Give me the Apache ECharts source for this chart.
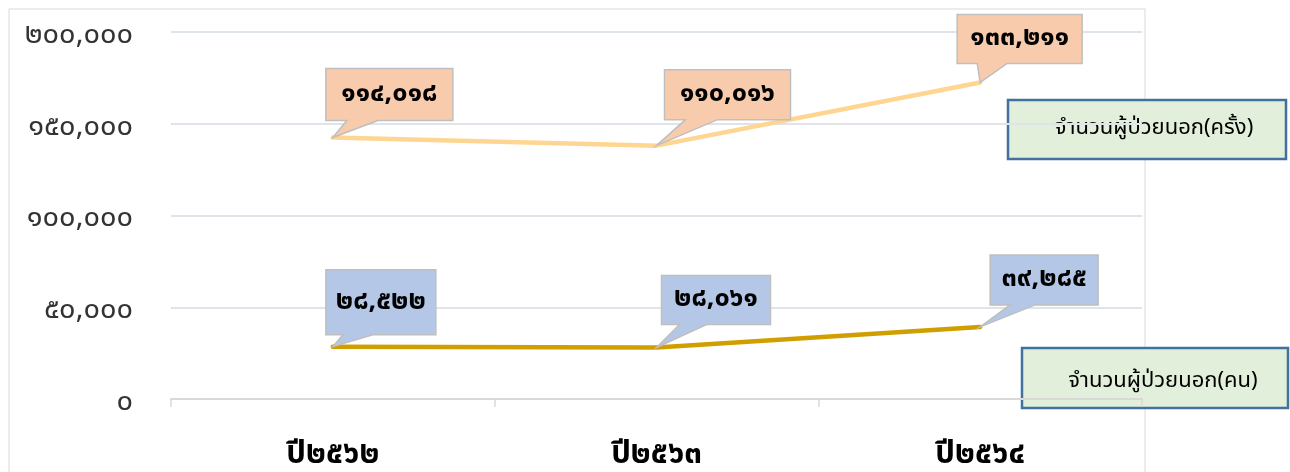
<!DOCTYPE html>
<html>
<head>
<meta charset="utf-8">
<script src="https://cdn.jsdelivr.net/npm/echarts@6/dist/echarts.min.js"></script>
<style>
  html, body { margin: 0; padding: 0; background: #ffffff; }
  #chart { width: 1290px; height: 472px; }
</style>
</head>
<body>
<div id="chart"></div>
<script>
// Fiscal years (Buddhist era)
const years = ['ปี๒๕๖๒', 'ปี๒๕๖๓', 'ปี๒๕๖๔'];
// Outpatients, number of persons
const patients = [28522, 28061, 39285];
// Outpatient visits (times), stacked on top of persons
const visits = [114018, 110016, 133211];
// Value-axis ticks
const yTicks = [0, 50000, 100000, 150000, 200000];

const seriesNames = ['จำนวนผู้ป่วยนอก(คน)', 'จำนวนผู้ป่วยนอก(ครั้ง)'];

// Callout bubble placement relative to its point: box offset, size, tail base
const visitCallouts = [
  { dx: -7, dy: -69, w: 127, h: 52, t0: 14, t1: 45 },
  { dx: 8, dy: -76, w: 126, h: 50, t0: 29, t1: 61 },
  { dx: -23, dy: -68, w: 125, h: 49, t0: -3, t1: 27 }
];
const patientCallouts = [
  { dx: -7, dy: -77, w: 110, h: 65, t0: 10, t1: 40 },
  { dx: 5, dy: -72, w: 109, h: 49, t0: 23, t1: 50 },
  { dx: 10, dy: -72, w: 108, h: 50, t0: 30, t1: 55 }
];

const THAI_DIGITS = '๐๑๒๓๔๕๖๗๘๙';
function toThai(n) {
  return Number(n).toLocaleString('en-US').replace(/[0-9]/g, d => THAI_DIGITS[+d]);
}

const FONT = "'Noto Sans Thai', 'Noto Sans', 'DejaVu Sans', sans-serif";

function calloutSeries(name, raw, base, layout, fill) {
  const data = raw.map((v, i) => [i, v + base[i], v]);
  return {
    type: 'custom',
    name: name + '-callout',
    data: data,
    z: 10,
    silent: true,
    renderItem: function (params, api) {
      const i = params.dataIndex;
      const p = api.coord([api.value(0), api.value(1)]);
      const L = layout[i];
      const x0 = p[0] + L.dx, y0 = p[1] + L.dy;
      const x1 = x0 + L.w, y1 = y0 + L.h;
      return {
        type: 'group',
        children: [
          {
            type: 'polygon',
            shape: {
              points: [
                [x0, y0], [x1, y0], [x1, y1],
                [p[0] + L.t1, y1], [p[0], p[1]], [p[0] + L.t0, y1],
                [x0, y1]
              ]
            },
            style: { fill: fill, stroke: '#bfbfbf', lineWidth: 1.5 }
          },
          {
            type: 'text',
            style: {
              x: (x0 + x1) / 2,
              y: (y0 + y1) / 2 + 1,
              text: toThai(api.value(2)),
              align: 'center',
              verticalAlign: 'middle',
              fill: '#000000',
              font: 'bold 27px ' + FONT
            }
          }
        ]
      };
    }
  };
}

const chart = echarts.init(document.getElementById('chart'), null, { renderer: 'canvas' });

const option = {
  backgroundColor: '#ffffff',
  animation: false,
  grid: { left: 171, right: 148, top: 32, bottom: 72, containLabel: false },
  xAxis: {
    type: 'category',
    data: years,
    boundaryGap: true,
    axisLine: { lineStyle: { color: '#d9d9d9', width: 2 } },
    axisTick: { show: true, length: 8, lineStyle: { color: '#d9d9d9', width: 1.5 } },
    axisLabel: {
      margin: 42,
      color: '#000000',
      fontFamily: FONT,
      fontWeight: 'bold',
      fontSize: 31
    }
  },
  yAxis: {
    type: 'value',
    min: yTicks[0],
    max: yTicks[yTicks.length - 1],
    interval: yTicks[1] - yTicks[0],
    axisLine: { show: false },
    axisTick: { show: false },
    splitLine: { lineStyle: { color: '#dfe3ea', width: 2 } },
    axisLabel: {
      margin: 38,
      formatter: v => '{v|' + toThai(v) + '}',
      rich: {
        v: {
          color: '#333333',
          fontFamily: FONT,
          fontSize: 29,
          padding: [10, 0, 0, 0]
        }
      }
    }
  },
  series: [
    {
      name: seriesNames[0],
      type: 'line',
      stack: 'opd',
      data: patients,
      showSymbol: false,
      lineStyle: { color: '#d19e00', width: 4.5, cap: 'round' },
      itemStyle: { color: '#d19e00' },
      z: 3
    },
    {
      name: seriesNames[1],
      type: 'line',
      stack: 'opd',
      data: visits,
      showSymbol: false,
      lineStyle: { color: '#ffd592', width: 4.5, cap: 'round' },
      itemStyle: { color: '#ffd592' },
      z: 3
    },
    calloutSeries('visits', visits, patients, visitCallouts, '#f8cbad'),
    calloutSeries('patients', patients, [0, 0, 0], patientCallouts, '#b4c7e7')
  ],
  graphic: [
    {
      type: 'rect',
      z: -1,
      shape: { x: 9, y: 9, width: 1136, height: 480 },
      style: { fill: 'none', stroke: '#d9d9d9', lineWidth: 1 }
    },
    {
      type: 'group',
      z: 20,
      children: [
        {
          type: 'rect',
          shape: { x: 1008, y: 100, width: 278, height: 59 },
          style: { fill: '#e2efda', stroke: '#41719c', lineWidth: 2.5 }
        },
        {
          type: 'text',
          style: {
            x: 1154, y: 130, text: seriesNames[1],
            align: 'center', verticalAlign: 'middle',
            fill: '#000000', font: '22px ' + FONT
          }
        },
        {
          type: 'rect',
          shape: { x: 1022, y: 348, width: 266, height: 60 },
          style: { fill: '#e2efda', stroke: '#41719c', lineWidth: 2.5 }
        },
        {
          type: 'text',
          style: {
            x: 1163, y: 383, text: seriesNames[0],
            align: 'center', verticalAlign: 'middle',
            fill: '#000000', font: '22px ' + FONT
          }
        }
      ]
    }
  ]
};

chart.setOption(option);
</script>
</body>
</html>
